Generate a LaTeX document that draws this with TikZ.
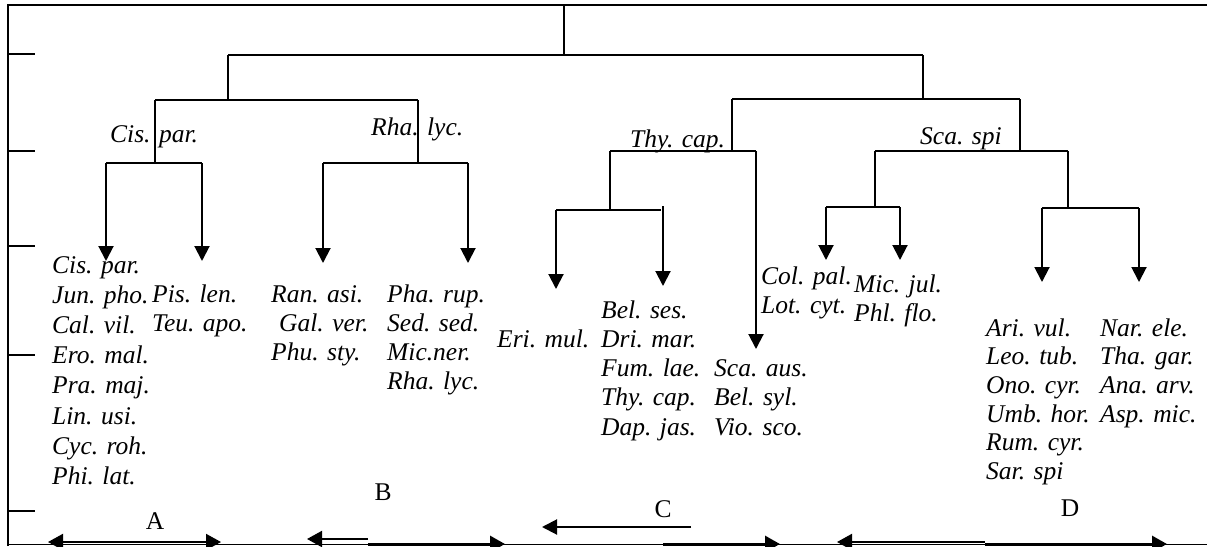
\documentclass[tikz,border=0pt]{standalone}
\usepackage{fontspec}
\setmainfont{Liberation Serif}
\usetikzlibrary{arrows.meta}
\begin{document}
\begin{tikzpicture}[x=1pt,y=-1pt,
  link/.style={line width=1.7pt},
  down/.style={line width=2pt,-{Triangle[length=15pt,width=15pt]}},
  sp/.style={font=\fontsize{25.5}{28.5}\selectfont\itshape,inner sep=0pt,anchor=base west},
  grp/.style={font=\fontsize{25.5}{28.5}\selectfont,inner sep=0pt,anchor=center},
  frame/.style={line width=1.7pt},
  bot/.style={line width=2pt,-{Triangle[length=15pt,width=16pt]}},
  botthick/.style={line width=3pt,-{Triangle[length=15pt,width=16pt]}},
]
\useasboundingbox (0,0) rectangle (1207,546);
% frame
\coordinate (f1) at (8,546);
\coordinate (f2) at (8,5);
\coordinate (f3) at (1207,5);
\coordinate (f4) at (8,544.5);
\coordinate (f5) at (1207,544.5);
\draw[frame] (f1) -- (f2) -- (f3);
\draw[line width=1.2pt] (f4) -- (f5);
\foreach \y [count=\i] in {54,151,246,355,511}{
  \coordinate (tk\i) at (8,\y);
  \coordinate (tke\i) at (35,\y);
  \draw[line width=1.5pt] (tk\i) -- (tke\i);
}
% tree: root
\coordinate (top) at (564,5);
\coordinate (n0) at (564,55);
\coordinate (nL) at (228,55);
\coordinate (nR) at (923,55);
\draw[link] (top) -- (n0);
\draw[link] (nL) -- (nR);
% left half
\coordinate (nL2) at (228,100);
\coordinate (cisT) at (155,100);
\coordinate (rhaT) at (418,100);
\draw[link] (nL) -- (nL2);
\draw[link] (cisT) -- (rhaT);
\coordinate (cisB) at (155,163);
\coordinate (cisL) at (106,163);
\coordinate (cisR) at (202,163);
\coordinate (cisLe) at (106,261);
\coordinate (cisRe) at (202,261);
\draw[link] (cisT) -- (cisB);
\draw[link] (cisL) -- (cisR);
\draw[down] (cisL) -- (cisLe);
\draw[down] (cisR) -- (cisRe);
\coordinate (rhaB) at (418,163);
\coordinate (rhaL) at (323,163);
\coordinate (rhaR) at (468,163);
\coordinate (rhaLe) at (323,263);
\coordinate (rhaRe) at (468,263);
\draw[link] (rhaT) -- (rhaB);
\draw[link] (rhaL) -- (rhaR);
\draw[down] (rhaL) -- (rhaLe);
\draw[down] (rhaR) -- (rhaRe);
% right half
\coordinate (nR2) at (923,99);
\coordinate (thyT) at (732,99);
\coordinate (scaT) at (1020,99);
\draw[link] (nR) -- (nR2);
\draw[link] (thyT) -- (scaT);
\coordinate (thyB) at (732,151);
\coordinate (thyL) at (610,151);
\coordinate (thyR) at (756,151);
\coordinate (thyRe) at (756,349);
\draw[link] (thyT) -- (thyB);
\draw[link] (thyL) -- (thyR);
\draw[down] (thyR) -- (thyRe);
\coordinate (eriT) at (610,210);
\coordinate (eriL) at (556,210);
\coordinate (eriR) at (661,210);
\coordinate (belT) at (663,206);
\coordinate (eriLe) at (556,289);
\coordinate (belE) at (663,286);
\draw[link] (thyL) -- (eriT);
\draw[link] (eriL) -- (eriR);
\draw[down] (eriL) -- (eriLe);
\draw[down] (belT) -- (belE);
\coordinate (scaB) at (1020,151);
\coordinate (scaL) at (875,151);
\coordinate (scaR) at (1068,151);
\draw[link] (scaT) -- (scaB);
\draw[link] (scaL) -- (scaR);
\coordinate (colT) at (875,207);
\coordinate (colL) at (826,207);
\coordinate (colR) at (900,207);
\coordinate (colLe) at (826,260);
\coordinate (colRe) at (900,260);
\draw[link] (scaL) -- (colT);
\draw[link] (colL) -- (colR);
\draw[down] (colL) -- (colLe);
\draw[down] (colR) -- (colRe);
\coordinate (ariT) at (1068,208);
\coordinate (ariL) at (1042,208);
\coordinate (ariR) at (1139,208);
\coordinate (ariLe) at (1042,282);
\coordinate (ariRe) at (1139,282);
\draw[link] (scaR) -- (ariT);
\draw[link] (ariL) -- (ariR);
\draw[down] (ariL) -- (ariLe);
\draw[down] (ariR) -- (ariRe);
% tree labels
\node[sp] (lcis) at (110,142) {Cis. par.};
\node[sp] (lrha) at (371,135) {Rha. lyc.};
\node[sp] (lthy) at (630,147) {Thy. cap.};
\node[sp] (lsca) at (920,144) {Sca. spi};
% species lists
\foreach \t [count=\i from 0] in {Cis. par.,Jun. pho.,Cal. vil.,Ero. mal.,Pra. maj.,Lin. usi.,Cyc. roh.,Phi. lat.}
  \node[sp] (a\i) at (52,273+30.2*\i) {\t};
\foreach \t [count=\i from 0] in {Pis. len.,Teu. apo.}
  \node[sp] (b\i) at (152,302+29*\i) {\t};
\node[sp] (c0) at (271,302) {Ran. asi.};
\node[sp] (c1) at (279,331) {Gal. ver.};
\node[sp] (c2) at (271,360) {Phu. sty.};
\foreach \t [count=\i from 0] in {Pha. rup.,Sed. sed.,Mic.ner.,Rha. lyc.}
  \node[sp] (d\i) at (387,302+29*\i) {\t};
\node[sp] (e0) at (497,347) {Eri. mul.};
\foreach \t [count=\i from 0] in {Bel. ses.,Dri. mar.,Fum. lae.,Thy. cap.,Dap. jas.}
  \node[sp] (f\i) at (601,318+29.3*\i) {\t};
\foreach \t [count=\i from 0] in {Sca. aus.,Bel. syl.,Vio. sco.}
  \node[sp] (g\i) at (714,376.6+29.3*\i) {\t};
\node[sp] (h0) at (761,284) {Col. pal.};
\node[sp] (h1) at (761,313) {Lot. cyt.};
\node[sp] (i0) at (854,292) {Mic. jul.};
\node[sp] (i1) at (854,321) {Phl. flo.};
\foreach \t [count=\i from 0] in {Ari. vul.,Leo. tub.,Ono. cyr.,Umb. hor.,Rum. cyr.,Sar. spi}
  \node[sp] (j\i) at (986,336+28.7*\i) {\t};
\foreach \t [count=\i from 0] in {Nar. ele.,Tha. gar.,Ana. arv.,Asp. mic.}
  \node[sp] (k\i) at (1100,336+28.7*\i) {\t};
% group letters
\node[grp] (gA) at (155,521) {A};
\node[grp] (gB) at (383,492) {B};
\node[grp] (gC) at (663,509) {C};
\node[grp] (gD) at (1070,508) {D};
% C arrow
\coordinate (cS) at (691,527);
\coordinate (cE) at (542,527);
\draw[line width=2pt,-{Triangle[length=15pt,width=15pt]}] (cS) -- (cE);
% bottom arrows
\coordinate (aL) at (48,542);
\coordinate (aR) at (221,542);
\draw[line width=2pt,{Triangle[length=15pt,width=16pt]}-{Triangle[length=15pt,width=16pt]}] (aL) -- (aR);
\coordinate (bM) at (368,539);
\coordinate (bL) at (307,539);
\coordinate (bM2) at (368,544);
\coordinate (bR) at (505,544);
\draw[bot] (bM) -- (bL);
\draw[botthick] (bM2) -- (bR);
\coordinate (cM) at (663,544);
\coordinate (cR) at (780,544);
\draw[botthick] (cM) -- (cR);
\coordinate (dM) at (985,542);
\coordinate (dL) at (837,542);
\coordinate (dM2) at (985,544);
\coordinate (dR) at (1167,544);
\draw[bot] (dM) -- (dL);
\draw[botthick] (dM2) -- (dR);
\end{tikzpicture}
\end{document}
